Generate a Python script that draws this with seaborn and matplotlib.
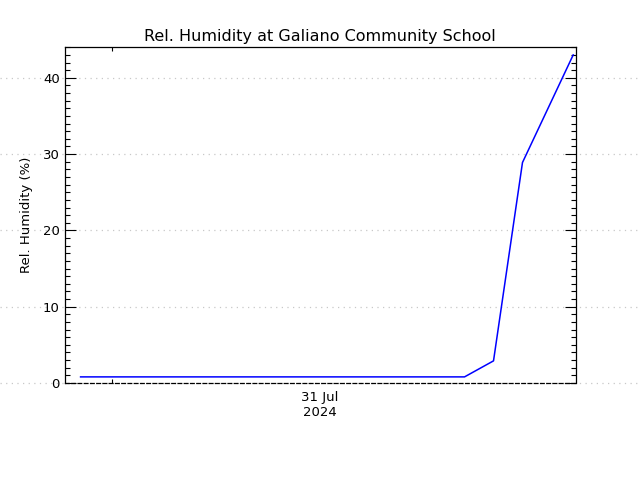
import matplotlib
matplotlib.use("Agg")
import matplotlib.pyplot as plt
import matplotlib.dates as mdates
import matplotlib.ticker as mticker
import matplotlib.transforms as mtransforms
import seaborn as sns
import pandas as pd

# ---- data ----
times = ["2024-07-30 22:55", "2024-07-31 12:10", "2024-07-31 13:10",
         "2024-07-31 14:10", "2024-07-31 15:55"]
humidity = [0.8, 0.8, 2.9, 28.9, 43.0]
x_range = ["2024-07-30 22:22", "2024-07-31 16:00"]
day_tick = "2024-07-31 00:00"
y_ticks = [0, 10, 20, 30, 40]
y_max = 44
title = "Rel. Humidity at Galiano Community School"
y_label = "Rel. Humidity (%)"
x_label_text = "31 Jul\n2024"

df = pd.DataFrame({"time": pd.to_datetime(times), "rh": humidity})

fig = plt.figure(figsize=(6.4, 4.8), dpi=100)
ax = fig.add_axes([0.101, 0.2021, 0.7984, 0.6994])

sns.lineplot(data=df, x="time", y="rh", ax=ax, color="#0000ff", linewidth=1.1,
             zorder=3)

xmin, xmax = pd.to_datetime(x_range)
ax.set_xlim(xmin, xmax)
ax.set_ylim(0, y_max)

# dotted grid spanning the whole figure width
trans = mtransforms.blended_transform_factory(fig.transFigure, ax.transData)
for yv in y_ticks:
    ax.plot([0, 1], [yv, yv], transform=trans, clip_on=False,
            color="#c8c8c8", linestyle=(0, (1, 3.5)), linewidth=0.9, zorder=1)

# y axis ticks
ax.yaxis.set_major_locator(mticker.FixedLocator(y_ticks))
ax.yaxis.set_minor_locator(mticker.MultipleLocator(1))
ax.tick_params(axis="y", which="major", direction="in", length=8, width=0.8,
               left=True, right=True, labelsize=9.5, pad=3.5)
ax.tick_params(axis="y", which="minor", direction="in", length=3.6, width=0.8,
               left=True, right=True)

# x axis ticks: one day boundary tick, label centered on axis
xmid = xmin + (xmax - xmin) / 2
ax.xaxis.set_major_locator(mticker.FixedLocator([mdates.date2num(pd.Timestamp(day_tick))]))
ax.xaxis.set_major_formatter(mticker.NullFormatter())
ax.xaxis.set_minor_locator(mticker.FixedLocator([mdates.date2num(xmid)]))
ax.xaxis.set_minor_formatter(mticker.FixedFormatter([x_label_text]))
ax.tick_params(axis="x", which="major", direction="in", length=3, width=0.8,
               top=True, bottom=True)
ax.tick_params(axis="x", which="minor", length=0, labelsize=9.5, pad=6)
for lbl in ax.xaxis.get_minorticklabels():
    lbl.set_horizontalalignment("center")
    lbl.set_multialignment("center")

for side in ["left", "right", "top", "bottom"]:
    ax.spines[side].set_linewidth(0.9)
    ax.spines[side].set_color("black")
ax.spines["bottom"].set_linestyle((0, (3, 2)))

ax.set_xlabel("")
ax.set_ylabel(y_label, fontsize=9.5, labelpad=7)
ax.set_title(title, fontsize=11.5, pad=4.5)

fig.savefig("out.png", dpi=100)
